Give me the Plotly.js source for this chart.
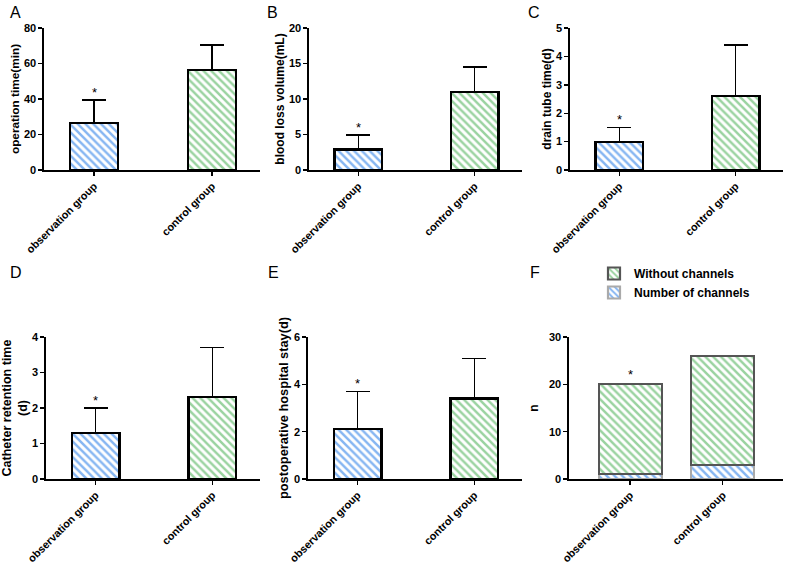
<!DOCTYPE html>
<html>
<head>
<meta charset="utf-8">
<script src="https://cdn.plot.ly/plotly-3.0.1.min.js"></script>
<style>
  html, body { margin: 0; padding: 0; background: #fff; }
  #myDiv { width: 790px; height: 564px; }
</style>
</head>
<body>
<div id="myDiv"></div>
<script>
// groups on the x axis
var groups = ['observation group', 'control group'];

// panels A-E: mean and SD per group
var opTimeMean = [26.5, 56.5], opTimeSd = [12.9, 13.8];
var bloodLossMean = [2.9, 11.0], bloodLossSd = [2.0, 3.5];
var drainMean = [1.0, 2.6], drainSd = [0.5, 1.8];
var catheterMean = [1.3, 2.3], catheterSd = [0.7, 1.4];
var stayMean = [2.1, 3.4], staySd = [1.6, 1.7];

// panel F: counts
var numberOfChannels = [1, 3];
var withoutChannels = [19, 23];

var BLUE = '#86b6f2';
var GREEN = '#9ad3a0';
var FONT = 'Liberation Sans, Arial, sans-serif';

var panels = [
  { ax: '', mean: opTimeMean, sd: opTimeSd },
  { ax: '2', mean: bloodLossMean, sd: bloodLossSd },
  { ax: '3', mean: drainMean, sd: drainSd },
  { ax: '4', mean: catheterMean, sd: catheterSd },
  { ax: '5', mean: stayMean, sd: staySd }
];

var data = [];
var annotations = [];

panels.forEach(function (p) {
  [0, 1].forEach(function (g) {
    data.push({
      type: 'bar',
      x: [groups[g]],
      y: [p.mean[g]],
      width: 0.41,
      xaxis: 'x' + p.ax,
      yaxis: 'y' + p.ax,
      showlegend: false,
      marker: {
        color: '#ffffff',
        line: { color: '#000', width: 2.2 },
        pattern: { shape: '\\', fgcolor: g === 0 ? BLUE : GREEN, bgcolor: '#fff', size: 5.5, solidity: 0.45 }
      },
      error_y: {
        type: 'data', symmetric: false, array: [p.sd[g]], arrayminus: [0],
        color: '#000', thickness: 1.6, width: 12
      }
    });
  });
  // significance mark above the observation group
  annotations.push({
    xref: 'x' + p.ax, yref: 'y' + p.ax,
    x: groups[0], y: p.mean[0] + p.sd[0],
    text: '*', showarrow: false, yanchor: 'bottom', yshift: -2,
    font: { family: FONT, size: 13, color: '#000' }
  });
});

// panel F stacked counts
data.push({
  type: 'bar', x: groups, y: numberOfChannels, width: 0.68,
  xaxis: 'x6', yaxis: 'y6', name: 'Number of channels',
  marker: {
    color: '#fff',
    line: { color: '#aaaaaa', width: 2.2 },
    pattern: { shape: '\\', fgcolor: BLUE, bgcolor: '#fff', size: 5.5, solidity: 0.45 }
  }
});
data.push({
  type: 'bar', x: groups, y: withoutChannels, width: 0.68,
  xaxis: 'x6', yaxis: 'y6', name: 'Without channels',
  marker: {
    color: '#fff',
    line: { color: '#555555', width: 2.2 },
    pattern: { shape: '\\', fgcolor: GREEN, bgcolor: '#fff', size: 5.5, solidity: 0.45 }
  }
});
annotations.push({
  xref: 'x6', yref: 'y6', x: groups[0],
  y: numberOfChannels[0] + withoutChannels[0],
  text: '*', showarrow: false, yanchor: 'bottom', yshift: 0,
  font: { family: FONT, size: 13, color: '#000' }
});

// panel letters
[['A', 8, 12], ['B', 265, 12], ['C', 526, 12], ['D', 8, 272], ['E', 266, 272], ['F', 528, 272]].forEach(function (l) {
  annotations.push({
    xref: 'paper', yref: 'paper', x: l[1] / 790, y: 1 - l[2] / 564,
    xanchor: 'left', yanchor: 'middle', text: l[0], showarrow: false,
    font: { family: FONT, size: 16, color: '#000' }
  });
});

function xAxis(dom, range, anchor) {
  return {
    domain: dom, range: range, anchor: anchor, type: 'category',
    showline: true, linecolor: '#000', linewidth: 1.6,
    ticks: 'outside', ticklen: 4, tickwidth: 1.4, tickcolor: '#000',
    tickangle: -45, showgrid: false, zeroline: false,
    tickfont: { family: FONT, size: 10.8, color: '#000', weight: 'bold' }
  };
}
function yAxis(dom, range, dtick, title, anchor, tsize, standoff) {
  return {
    domain: dom, range: range, dtick: dtick, anchor: anchor,
    showline: true, linecolor: '#000', linewidth: 1.6,
    ticks: 'outside', ticklen: 4, tickwidth: 1.4, tickcolor: '#000',
    showgrid: false, zeroline: false,
    tickfont: { family: FONT, size: 11, color: '#000', weight: 'bold' },
    title: { text: title, standoff: standoff === undefined ? 2 : standoff, font: { family: FONT, size: tsize || 12, color: '#000', weight: 'bold' } }
  };
}

var topY = [1 - 170 / 564, 1 - 28 / 564];
var botY = [1 - 479 / 564, 1 - 337 / 564];
var rA = [-0.424, 1.407];

var layout = {
  width: 790, height: 564,
  margin: { l: 0, r: 0, t: 0, b: 0 },
  paper_bgcolor: '#fff', plot_bgcolor: '#fff',
  barmode: 'stack',
  font: { family: FONT, color: '#000' },
  xaxis: xAxis([44 / 790, 260 / 790], rA, 'y'),
  yaxis: yAxis(topY, [0, 80], 20, 'operation time(min)', 'x', 11.8),
  xaxis2: xAxis([309 / 790, 522 / 790], rA, 'y2'),
  yaxis2: yAxis(topY, [0, 20], 5, 'blood loss volume(mL)', 'x2'),
  xaxis3: xAxis([570 / 790, 783 / 790], rA, 'y3'),
  yaxis3: yAxis(topY, [0, 5], 1, 'drain tube time(d)', 'x3'),
  xaxis4: xAxis([46 / 790, 260 / 790], rA, 'y4'),
  yaxis4: yAxis(botY, [0, 4], 1, 'Catheter retention time<br>(d)', 'x4', 12.5, 2),
  xaxis5: xAxis([308 / 790, 522 / 790], rA, 'y5'),
  yaxis5: yAxis(botY, [0, 6], 2, 'postoperative hospital stay(d)', 'x5', 12.8),
  xaxis6: xAxis([569 / 790, 783 / 790], [-0.66, 1.65], 'y6'),
  yaxis6: yAxis(botY, [0, 30], 10, 'n', 'x6', 12, 8),
  showlegend: true,
  legend: {
    x: 594 / 790, y: 1 - 259 / 564, xanchor: 'left', yanchor: 'top',
    traceorder: 'reversed', bgcolor: 'rgba(0,0,0,0)',
    font: { family: FONT, size: 12, color: '#000', weight: 'bold' },
    itemwidth: 30, tracegroupgap: 0
  },
  annotations: annotations
};

Plotly.newPlot('myDiv', data, layout, { displayModeBar: false, staticPlot: true });
</script>
</body>
</html>
